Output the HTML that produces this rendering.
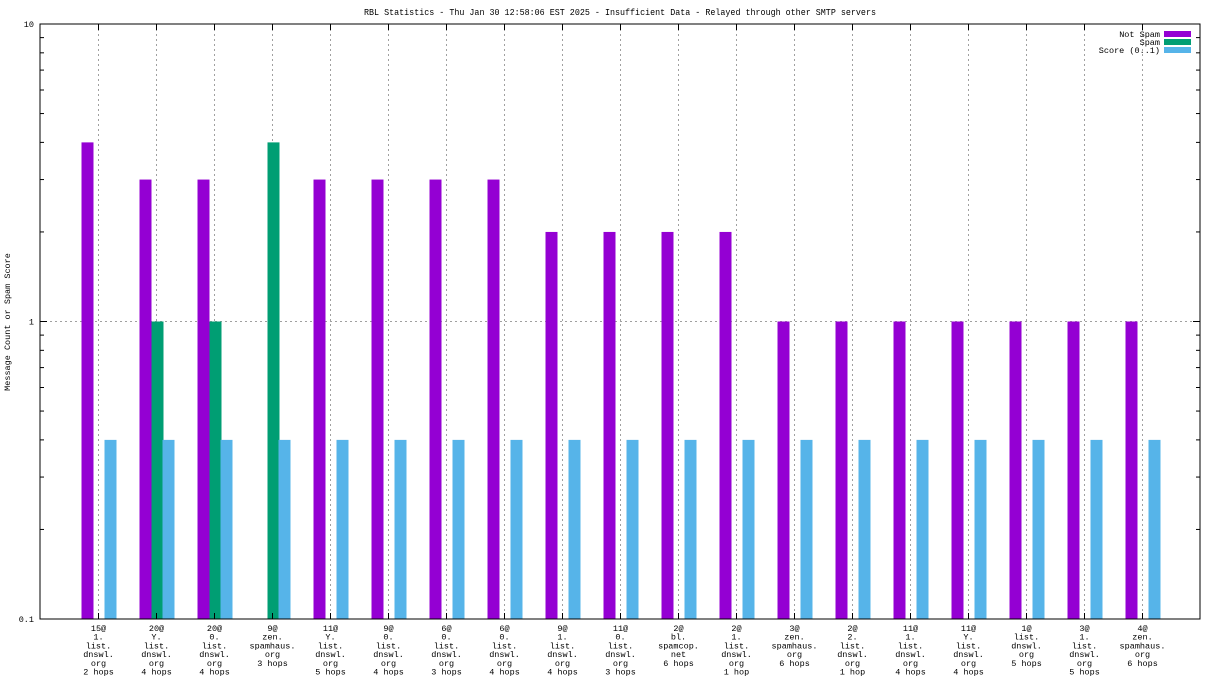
<!DOCTYPE html>
<html><head><meta charset="utf-8"><style>
body{margin:0;background:#fff}
svg{display:block}
text{font-family:"Liberation Mono","DejaVu Sans Mono",monospace;fill:#000}
</style></head><body>
<svg id="chart" width="1216" height="684" xmlns="http://www.w3.org/2000/svg">
<text x="620" y="15" font-size="9.5" text-anchor="middle" textLength="512" lengthAdjust="spacingAndGlyphs">RBL Statistics - Thu Jan 30 12:58:06 EST 2025 - Insufficient Data - Relayed through other SMTP servers</text>
<text transform="translate(10,322) rotate(-90)" font-size="8.5" text-anchor="middle">Message Count or Spam Score</text>
<g id="grid"></g><g id="bars"></g><g id="axes"></g><g id="labels"></g>
<g>
<text x="1160" y="37" font-size="8.5" text-anchor="end">Not Spam</text>
<rect x="1164" y="31" width="27" height="6" fill="#9400d3"/>
<text x="1160" y="45" font-size="8.5" text-anchor="end">Spam</text>
<rect x="1164" y="39" width="27" height="6" fill="#009e73"/>
<text x="1160" y="53" font-size="8.5" text-anchor="end">Score (0..1)</text>
<rect x="1164" y="47" width="27" height="6" fill="#56b4e9"/>
</g>
</svg>
<script>
const categories=[["15@","1.","list.","dnswl.","org","2 hops"],["20@","Y.","list.","dnswl.","org","4 hops"],["20@","0.","list.","dnswl.","org","4 hops"],["9@","zen.","spamhaus.","org","3 hops"],["11@","Y.","list.","dnswl.","org","5 hops"],["9@","0.","list.","dnswl.","org","4 hops"],["6@","0.","list.","dnswl.","org","3 hops"],["6@","0.","list.","dnswl.","org","4 hops"],["9@","1.","list.","dnswl.","org","4 hops"],["11@","0.","list.","dnswl.","org","3 hops"],["2@","bl.","spamcop.","net","6 hops"],["2@","1.","list.","dnswl.","org","1 hop"],["3@","zen.","spamhaus.","org","6 hops"],["2@","2.","list.","dnswl.","org","1 hop"],["11@","1.","list.","dnswl.","org","4 hops"],["11@","Y.","list.","dnswl.","org","4 hops"],["1@","list.","dnswl.","org","5 hops"],["3@","1.","list.","dnswl.","org","5 hops"],["4@","zen.","spamhaus.","org","6 hops"]];
const notSpam=[4,3,3,0,3,3,3,3,2,2,2,2,1,1,1,1,1,1,1];
const spam=[0,1,1,4,0,0,0,0,0,0,0,0,0,0,0,0,0,0,0];
const score=[0.4,0.4,0.4,0.4,0.4,0.4,0.4,0.4,0.4,0.4,0.4,0.4,0.4,0.4,0.4,0.4,0.4,0.4,0.4];
const yTicks=[0.1,1,10];
const yTickLabels=["0.1","1","10"];

const NS="http://www.w3.org/2000/svg";
const L=40,R=1200,T=24,B=619;
const yMin=0.1,yMax=10;
function y(v){return B-(Math.log10(v)-Math.log10(yMin))/(Math.log10(yMax)-Math.log10(yMin))*(B-T);}
function x(i){return 98.5+i*58;}
function mk(tag,attrs,parent){const e=document.createElementNS(NS,tag);for(const k in attrs)e.setAttribute(k,attrs[k]);parent.appendChild(e);return e;}
const grid=document.getElementById('grid'),bars=document.getElementById('bars'),axes=document.getElementById('axes'),labels=document.getElementById('labels');

// horizontal grid at 1
let gl=mk('line',{x1:L,x2:R,y1:y(1),y2:y(1),stroke:'#a0a0a0','stroke-dasharray':'2,3','stroke-width':1},grid);



const series=[{d:notSpam,c:'#9400d3',o:-17,n:'not-spam'},{d:spam,c:'#009e73',o:-5,n:'spam'},{d:score,c:'#56b4e9',o:6,n:'score'}];
categories.forEach((cat,i)=>{
  const cx=x(i);
  const g=mk('line',{x1:cx,x2:cx,y1:T,y2:B,stroke:'#a0a0a0','stroke-dasharray':'2,3','stroke-width':1},grid);
  
  
  series.forEach(s=>{
    const v=s.d[i];
    if(v<=0)return;
    const yt=Math.max(T,y(v));
    const r=mk('rect',{x:cx+s.o,y:yt,width:12,height:B-yt,fill:s.c},bars);
    
    
  });
  mk('line',{x1:cx,x2:cx,y1:B,y2:B-6,stroke:'#000'},axes);
  mk('line',{x1:cx,x2:cx,y1:T,y2:T+6,stroke:'#000'},axes);
  const t=mk('text',{x:cx,y:631,'font-size':'8.5','text-anchor':'middle'},labels);
  
  
  cat.forEach((line,k)=>{const ts=mk('tspan',{x:cx,dy:k?8.7:0},t);ts.textContent=line;});
});
// frame
const fr=mk('rect',{x:L,y:T,width:R-L,height:B-T,fill:'none',stroke:'#000','stroke-width':1},axes);


// y ticks
yTicks.forEach((v,i)=>{
  mk('line',{x1:L,x2:L+7,y1:y(v),y2:y(v),stroke:'#000'},axes);
  mk('line',{x1:R,x2:R-7,y1:y(v),y2:y(v),stroke:'#000'},axes);
  const t=mk('text',{x:L-6,y:y(v)+3,'font-size':'8.5','text-anchor':'end'},labels);
  
  
  t.textContent=yTickLabels[i];
});
for(let d=0.1;d<10;d*=10){for(let m=2;m<10;m++){const v=d*m;mk('line',{x1:L,x2:L+4,y1:y(v),y2:y(v),stroke:'#000'},axes);mk('line',{x1:R,x2:R-4,y1:y(v),y2:y(v),stroke:'#000'},axes);}}
</script>
</body></html>
